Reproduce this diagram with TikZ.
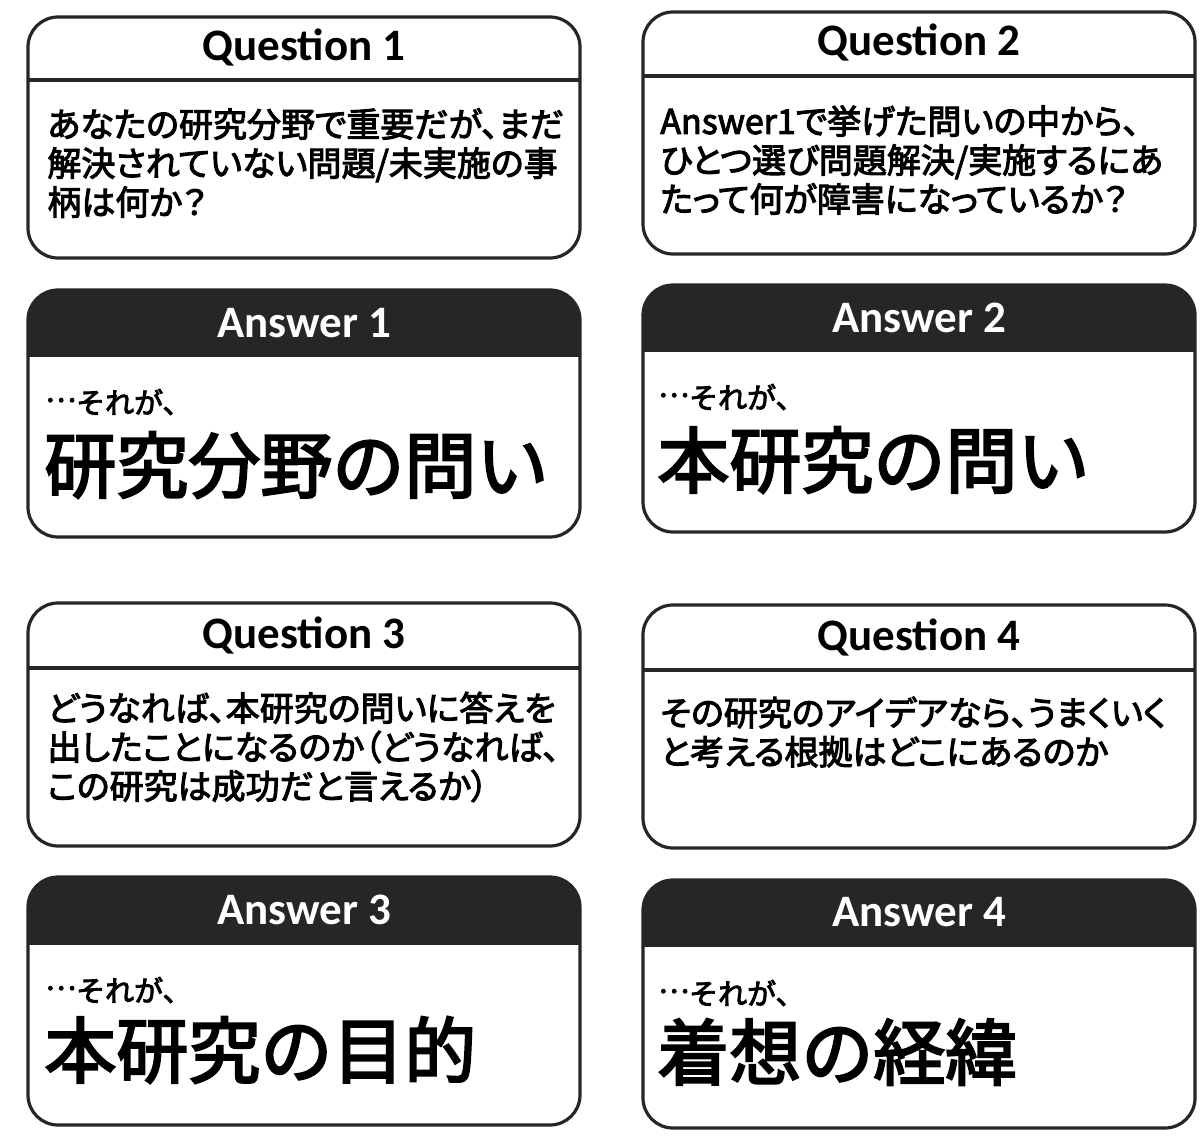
\documentclass[tikz,border=0pt]{standalone}
\usepackage{fontspec}
\setmainfont{Carlito}
\newfontfamily\jpfont{Noto Sans CJK JP}[FakeBold=3]
\newfontfamily\jpbody{Noto Sans CJK JP}[FakeBold=3, RawFeature=+palt]
\newcommand\middots{\raisebox{0.4em}{…}}
\tikzset{
  x=0.5pt, y=-0.5pt,
  boxborder/.style={draw=black!85, line width=1.6pt, rounded corners=15pt},
  divider/.style={draw=black!85, line width=1.6pt},
  hdrfill/.style={fill=black!85},
  qtitle/.style={font=\fontsize{22.5}{27}\selectfont\bfseries, text=black, inner sep=0pt},
  atitle/.style={font=\fontsize{22.5}{27}\selectfont\bfseries, text=white, inner sep=0pt},
  qbody/.style={font=\jpbody\fontsize{17}{19.5}\selectfont, align=left, anchor=west, inner sep=0pt},
  asmall/.style={font=\jpfont\fontsize{14.5}{16}\selectfont, anchor=west, inner sep=0pt},
  abig/.style={font=\jpfont\fontsize{36}{40}\selectfont, anchor=west, inner sep=0pt},
}
\begin{document}
\begin{tikzpicture}
\useasboundingbox[fill=white] (0,0) rectangle (1200,1145);

% ---------- Question 1 ----------
\draw[boxborder, fill=white] (28,17) rectangle (580,258);
\draw[divider] (28,80) -- (580,80);
\node[qtitle] (q1t) at (304,48) {Question 1};
\node[qbody] (q1b) at (47,163) {あなたの研究分野で重要だが、まだ\\解決されていない問題/未実施の事\\柄は何か？};

% ---------- Question 2 ----------
\draw[boxborder, fill=white] (643,12) rectangle (1195,254);
\draw[divider] (643,76) -- (1195,76);
\node[qtitle] (q2t) at (919,43) {Question 2};
\node[qbody] (q2b) at (660,160) {Answer1で挙げた問いの中から、\\ひとつ選び問題解決/実施するにあ\\たって何が障害になっているか？};

% ---------- Answer 1 ----------
\begin{scope}
  \clip[rounded corners=15pt] (28,290) rectangle (580,537);
  \fill[white] (28,290) rectangle (580,537);
  \fill[hdrfill] (28,290) rectangle (580,357);
\end{scope}
\draw[boxborder] (28,290) rectangle (580,537);
\node[atitle] (a1t) at (304,323) {Answer 1};
\node[asmall] (a1s) at (45,402) {\middots それが、};
\node[abig] (a1b) at (44,465) {研究分野の問い};

% ---------- Answer 2 ----------
\begin{scope}
  \clip[rounded corners=15pt] (643,285) rectangle (1195,532);
  \fill[white] (643,285) rectangle (1195,532);
  \fill[hdrfill] (643,285) rectangle (1195,352);
\end{scope}
\draw[boxborder] (643,285) rectangle (1195,532);
\node[atitle] (a2t) at (919,318) {Answer 2};
\node[asmall] (a2s) at (658,397) {\middots それが、};
\node[abig] (a2b) at (657,460) {本研究の問い};

% ---------- Question 3 ----------
\draw[boxborder, fill=white] (28,603) rectangle (580,846);
\draw[divider] (28,668) -- (580,668);
\node[qtitle] (q3t) at (304,635) {Question 3};
\node[qbody] (q3b) at (47,747) {どうなれば、本研究の問いに答えを\\出したことになるのか（どうなれば、\\この研究は成功だと言えるか）};

% ---------- Question 4 ----------
\draw[boxborder, fill=white] (643,605) rectangle (1195,848);
\draw[divider] (643,670) -- (1195,670);
\node[qtitle] (q4t) at (919,637) {Question 4};
\node[qbody] (q4b) at (660,732) {その研究のアイデアなら、うまくいく\\と考える根拠はどこにあるのか};

% ---------- Answer 3 ----------
\begin{scope}
  \clip[rounded corners=15pt] (28,877) rectangle (580,1125);
  \fill[white] (28,877) rectangle (580,1125);
  \fill[hdrfill] (28,877) rectangle (580,945);
\end{scope}
\draw[boxborder] (28,877) rectangle (580,1125);
\node[atitle] (a3t) at (304,910) {Answer 3};
\node[asmall] (a3s) at (45,990) {\middots それが、};
\node[abig] (a3b) at (44,1050) {本研究の目的};

% ---------- Answer 4 ----------
\begin{scope}
  \clip[rounded corners=15pt] (643,880) rectangle (1195,1128);
  \fill[white] (643,880) rectangle (1195,1128);
  \fill[hdrfill] (643,880) rectangle (1195,947);
\end{scope}
\draw[boxborder] (643,880) rectangle (1195,1128);
\node[atitle] (a4t) at (919,912) {Answer 4};
\node[asmall] (a4s) at (658,993) {\middots それが、};
\node[abig] (a4b) at (657,1052) {着想の経緯};
\end{tikzpicture}
\end{document}
